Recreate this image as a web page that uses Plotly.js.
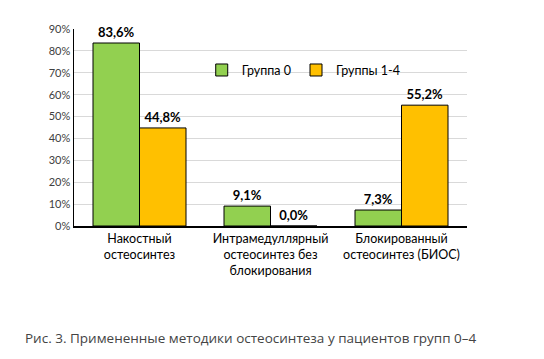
<!DOCTYPE html>
<html><head><meta charset="utf-8">
<script src="https://cdn.plot.ly/plotly-3.0.1.min.js"></script>
<style>body{margin:0;background:#fff}#c{width:544px;height:359px}</style>
</head><body><div id="c"></div>
<script>
const categories = ["Накостный<br>остеосинтез", "Интрамедуллярный<br>остеосинтез без<br>блокирования", "Блокированный<br>остеосинтез (БИОС)"];
const group0 = [83.6, 9.1, 7.3];
const group14 = [44.8, 0.0, 55.2];
const seriesNames = ["Группа 0", "Группы 1-4"];
const yTicks = [0, 10, 20, 30, 40, 50, 60, 70, 80, 90];
const caption = "Рис. 3. Примененные методики остеосинтеза у пациентов групп 0–4";

const fmt = v => v.toFixed(1).replace('.', ',') + '%';
const font = "Lato, 'Open Sans', sans-serif";

const mk = (vals, name, color) => ({
  type: 'bar', x: categories, y: vals, name: name,
  marker: {color: color, line: {color: '#000', width: 1}},
  text: vals.map(fmt), textposition: 'outside', cliponaxis: false,
  textfont: {family: font, size: 13, color: '#000', weight: 'bold'},
  hoverinfo: 'none'
});

const data = [mk(group0, seriesNames[0], '#92D050'), mk(group14, seriesNames[1], '#FFC000')];

const layout = {
  width: 544, height: 359,
  margin: {l: 74, r: 77, t: 29, b: 133},
  paper_bgcolor: '#fff', plot_bgcolor: '#fff',
  barmode: 'group', bargap: 0.29, bargroupgap: 0,
  showlegend: true,
  legend: {orientation: 'h', x: 0.325, y: 0.79, xanchor: 'left', yanchor: 'middle',
    font: {family: font, size: 12.5, color: '#000'}, itemwidth: 30,
    bgcolor: 'rgba(0,0,0,0)'},
  xaxis: {showline: true, linecolor: '#000', linewidth: 1.5, ticks: '', showgrid: false,
    tickfont: {family: font, size: 12.5, color: '#000'}, fixedrange: true},
  yaxis: {range: [0, 90], tickvals: yTicks, ticktext: yTicks.map(v => v + '%'),
    showline: true, linecolor: '#000', linewidth: 1.5, gridcolor: '#d9d9d9', gridwidth: 1,
    tickfont: {family: font, size: 11, color: '#404040'}, zeroline: false, fixedrange: true},
  annotations: [{text: caption, xref: 'paper', yref: 'paper', x: -0.131, y: -0.57,
    xanchor: 'left', yanchor: 'middle', showarrow: false,
    font: {family: "'Open Sans', sans-serif", size: 13.5, color: '#444'}}]
};
Plotly.newPlot('c', data, layout, {displayModeBar: false, staticPlot: true});
</script></body></html>
